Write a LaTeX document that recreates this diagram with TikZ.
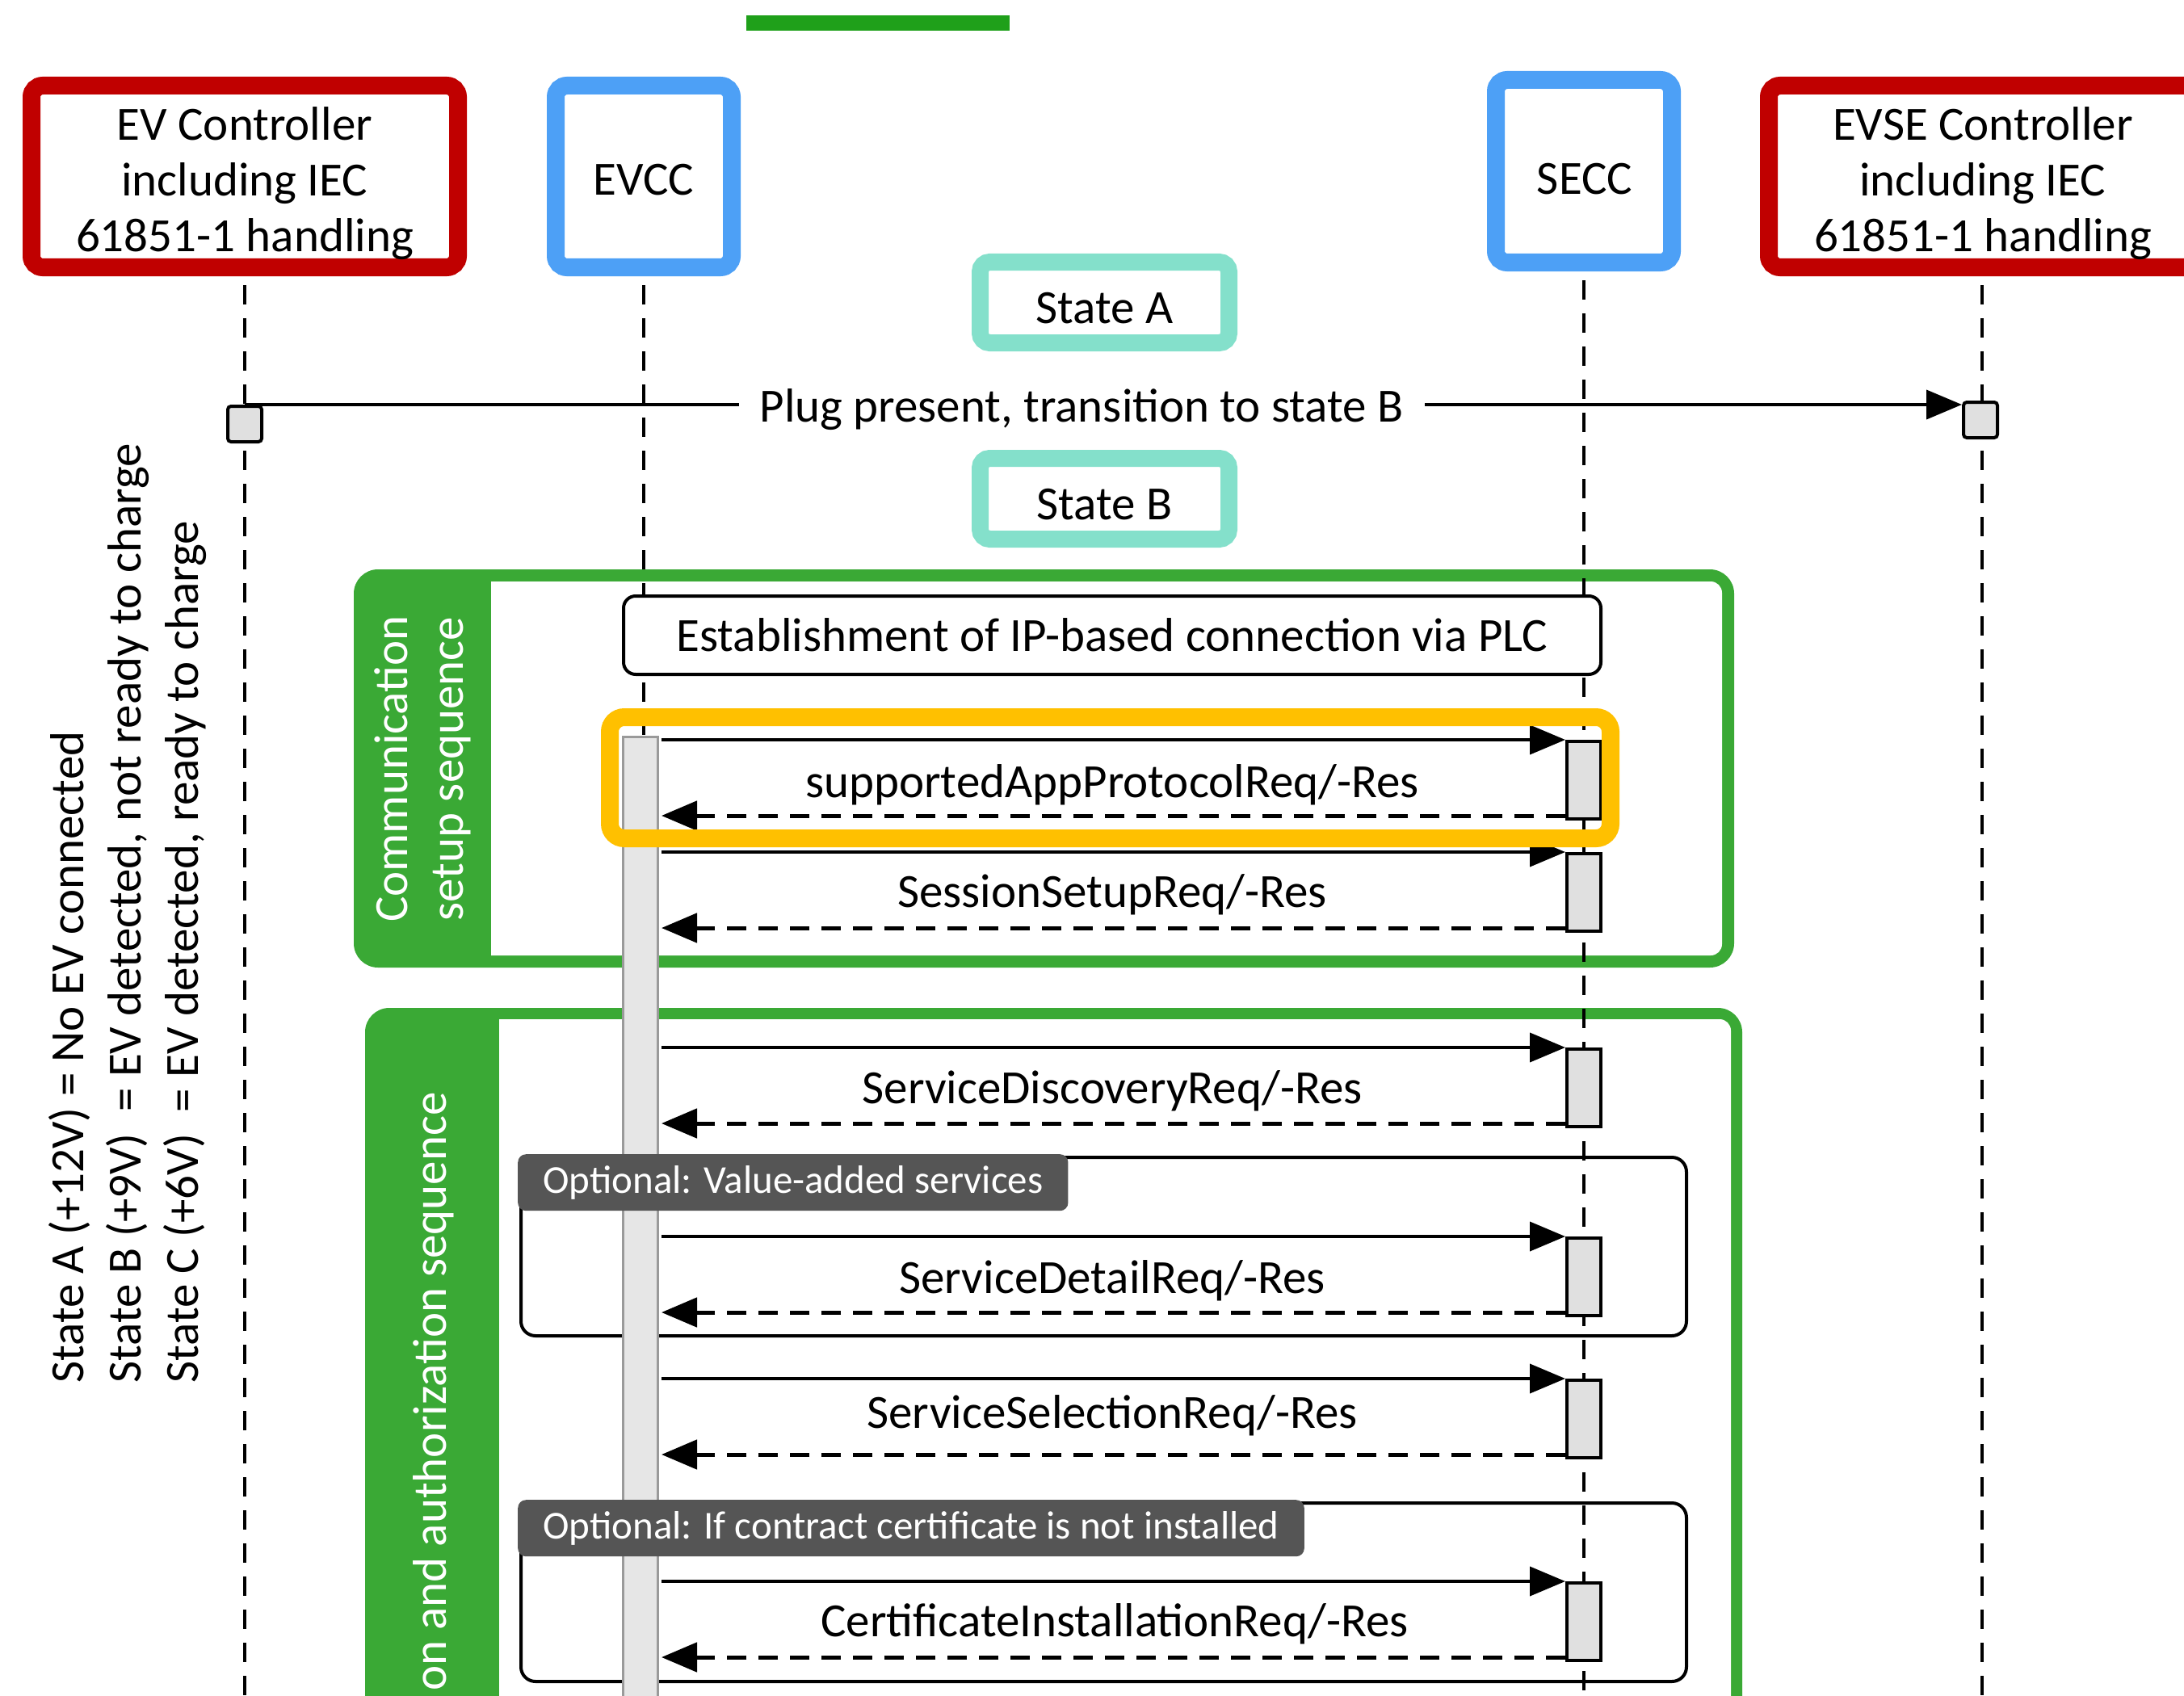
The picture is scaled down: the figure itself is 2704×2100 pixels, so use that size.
\documentclass[tikz,border=0pt]{standalone}
\usepackage{fontspec}
\setmainfont{Carlito}
\usetikzlibrary{arrows.meta}
\definecolor{evred}{HTML}{C00000}
\definecolor{evblue}{HTML}{4DA0F6}
\definecolor{stteal}{HTML}{84E0CB}
\definecolor{seqgreen}{HTML}{3AA935}
\definecolor{topgreen}{HTML}{1FA01A}
\definecolor{optorange}{HTML}{FFC000}
\definecolor{tabgray}{HTML}{555555}
\definecolor{actgray}{HTML}{E0E0E0}
\definecolor{barfill}{HTML}{E6E6E6}
\definecolor{barline}{HTML}{9A9A9A}
\newcommand\bigtext{\fontsize{59}{69}\selectfont}
\newcommand\statetext{\fontsize{59}{71}\selectfont}
\newcommand\smalltext{\fontsize{49}{58}\selectfont}
\tikzset{
  hdr/.style={draw=#1, line width=22pt, rounded corners=14pt, fill=white, inner sep=0pt},
  hdrtext/.style={align=center, font=\bigtext, inner sep=0pt},
  statebox/.style={draw=stteal, line width=21pt, rounded corners=12pt, fill=white, minimum width=308pt, minimum height=100pt, font=\bigtext, inner sep=0pt, text height=51pt, text depth=0pt},
  life/.style={line width=4pt, dash pattern=on 24pt off 17pt},
  actbox/.style={draw=black, line width=4pt, fill=actgray, minimum width=42pt, minimum height=96pt, inner sep=0pt, anchor=north},
  smallbox/.style={draw=black, line width=4pt, fill=actgray, minimum width=42pt, minimum height=44pt, inner sep=0pt, rounded corners=4pt},
  msg/.style={line width=4pt, -{Triangle[length=44pt,width=36pt]}},
  ret/.style={line width=5pt, dash pattern=on 24pt off 15pt, -{Triangle[length=44pt,width=36pt]}},
  lbl/.style={font=\bigtext, inner sep=0pt},
  optbox/.style={draw=black, line width=4pt, rounded corners=18pt, inner sep=0pt, anchor=north west, minimum width=1443pt, minimum height=221pt},
  tabbox/.style={fill=tabgray, text=white, rounded corners=10pt, font=\smalltext, inner xsep=31pt, inner ysep=0pt, minimum height=70pt, anchor=north west},
  seqtext/.style={text=white, font=\bigtext, rotate=90, inner sep=0pt, align=center},
}
\begin{document}
\begin{tikzpicture}[x=1pt,y=-1pt]
\useasboundingbox (0,0) rectangle (2704,2100);
\clip (0,0) rectangle (2704,2100);
\fill[white] (0,0) rectangle (2704,2100);

% top green bar
\node[fill=topgreen, minimum width=326pt, minimum height=19pt, inner sep=0pt, anchor=north west] (topbar) at (924,19) {};

% sequence group 1
\fill[seqgreen, rounded corners=30pt] (438,705) rectangle (2147,1198);
\fill[white, rounded corners=14pt] (608,720) -- (2132,720) -- (2132,1183) -- (608,1183);
\node[seqtext] (seq1) at (523,952) {Communication\\setup sequence};

% sequence group 2
\fill[seqgreen, rounded corners=30pt] (452,1248) rectangle (2157,2400);
\fill[white, rounded corners=14pt] (618,1262) -- (2143,1262) -- (2143,2386) -- (618,2386);
\node[seqtext, anchor=east] (seq2) at (537,1352) {on and authorization sequence};

% state legend
\node[rotate=90, anchor=west, inner sep=0pt, align=left, font=\statetext] (legend) at (158,1713)
  {State A (+12V) = No EV connected\\
   State B (+9V)\ \ = EV detected, not ready to charge\\
   State C (+6V)\ \ = EV detected, ready to charge};

% headers
\node[hdr=evred, minimum width=528pt, minimum height=225pt] (ev) at (303,218.5) {};
\node[hdr=evblue, minimum width=218pt, minimum height=225pt] (evcc) at (797,218.5) {};
\node[hdr=evblue, minimum width=218pt, minimum height=226pt] (secc) at (1961,212) {};
\node[hdr=evred, minimum width=528pt, minimum height=225pt] (evse) at (2454,218.5) {};
\node[hdrtext] (evT) at (303,227) {EV Controller\\including IEC\\61851-1 handling};
\node[hdrtext] (evccT) at (797,223) {EVCC};
\node[hdrtext] (seccT) at (1962,222) {SECC};
\node[hdrtext] (evseT) at (2455,227) {EVSE Controller\\including IEC\\61851-1 handling};

% states
\node[statebox] (stA) at (1367.5,374.5) {State A};
\node[statebox] (stB) at (1367.5,617.5) {State B};

% lifelines
\coordinate (evEnd) at (303,2110);
\coordinate (evccEnd) at (797,2110);
\coordinate (seccEnd) at (1961,2110);
\coordinate (evseEnd) at (2454,2110);
\draw[life] ([yshift=-11pt]ev.south) -- (evEnd);
\draw[life] ([yshift=-11pt]evcc.south) -- (evccEnd);
\draw[life] ([yshift=-11pt]secc.south) -- (seccEnd);
\draw[life] ([yshift=-11pt]evse.south) -- (evseEnd);

% PLC establishment
\node[draw=black, line width=4pt, fill=white, rounded corners=15pt, minimum width=1210pt, minimum height=97pt, font=\bigtext, inner sep=0pt] (plc) at (1377,786.5) {Establishment of IP-based connection via PLC};

% optional frames
\node[optbox] (opt1) at (643,1431) {};
\node[optbox] (opt2) at (643,1859) {};

% EVCC activation bar
\node[fill=barfill, draw=barline, line width=3pt, minimum width=43pt, minimum height=1300pt, anchor=north, inner sep=0pt] (evbar) at (793,910.5) {};
\coordinate (bx) at (819,0);

% tabs
\node[tabbox] (tab1) at (641,1429) {Optional: Value-added services};
\node[tabbox] (tab2) at (641,1857) {Optional: If contract certificate is not installed};

% SECC activation boxes
\node[actbox] (a1) at (1961,916) {};
\node[actbox] (a2) at (1961,1055) {};
\node[actbox] (a3) at (1961,1297) {};
\node[actbox] (a4) at (1961,1531) {};
\node[actbox] (a5) at (1961,1707) {};
\node[actbox] (a6) at (1961,1958) {};

% messages
\foreach \n in {1,...,6}{
  \draw[msg] (a\n.north west -| bx) -- (a\n.north west);
  \draw[ret] ([yshift=6pt]a\n.south west) -- ([yshift=6pt]a\n.south west -| bx);
}
\node[lbl] (l1) at (1377,972) {supportedAppProtocolReq/-Res};
\node[lbl] (l2) at (1377,1108) {SessionSetupReq/-Res};
\node[lbl] (l3) at (1377,1351) {ServiceDiscoveryReq/-Res};
\node[lbl] (l4) at (1377,1586) {ServiceDetailReq/-Res};
\node[lbl] (l5) at (1377,1753) {ServiceSelectionReq/-Res};
\node[lbl] (l6) at (1380,2011) {CertificateInstallationReq/-Res};

% highlight
\node[draw=optorange, line width=22pt, rounded corners=18pt, minimum width=1239pt, minimum height=150pt, inner sep=0pt] (hl) at (1374.5,963) {};

% plug present
\node[smallbox] (sm1) at (303,525) {};
\node[smallbox] (sm2) at (2452,520) {};
\draw[msg] (sm1.north) -- (sm1.north -| sm2.west);
\node[fill=white, font=\bigtext, inner xsep=26pt, inner ysep=4pt] (plug) at (1339,507) {Plug present, transition to state B};
\end{tikzpicture}
\end{document}
